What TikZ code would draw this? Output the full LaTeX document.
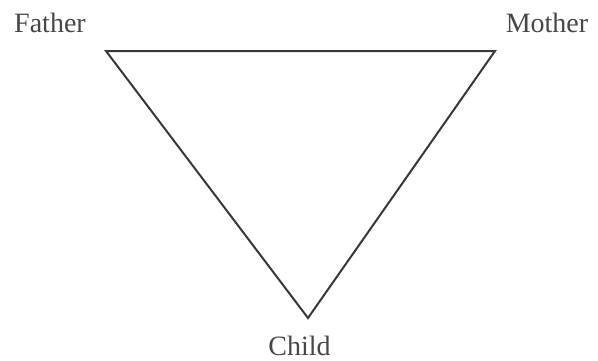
\documentclass[tikz,border=0pt]{standalone}
\usepackage{fontspec}
\setmainfont{Liberation Serif}
\begin{document}
\begin{tikzpicture}[x=1pt,y=-1pt,
  lbl/.style={anchor=base,inner sep=0pt,text depth=0pt,text=black!72,font=\fontsize{28}{32}\selectfont},
  edge/.style={draw=black!78,line width=2pt,line join=miter}]
\useasboundingbox (0,0) rectangle (598,360);
\coordinate (f) at (106,51);
\coordinate (m) at (495,51);
\coordinate (c) at (308,318);
\node[lbl] (father) at (50,32) {Father};
\node[lbl] (mother) at (547,32) {Mother};
\node[lbl] (child) at (299.5,355) {Child};
\draw[edge] (f) -- (m) -- (c) -- cycle;
\end{tikzpicture}
\end{document}
